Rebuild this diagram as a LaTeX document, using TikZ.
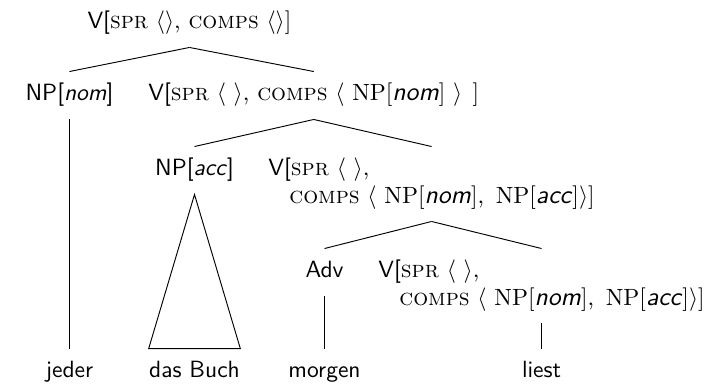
\documentclass[tikz,border=0pt]{standalone}
\usetikzlibrary{calc}
\newcommand{\cat}[1]{\textsf{#1}}
\newcommand{\fe}[1]{\textsc{#1}}
\newcommand{\vl}[1]{{\fontsize{10.9}{11.5}\selectfont\textsf{\textit{#1}}}}
\newcommand{\lsp}{\hspace{0.5em}}
\begin{document}
\begin{tikzpicture}[x=0.4255pt,y=-0.4255pt,
  lbl/.style={inner sep=0pt, text height=12.34pt, text depth=7.66pt, font=\fontsize{10}{11.5}\selectfont},
  twoline/.style={lbl, text depth=19.15pt},
  word/.style={inner sep=0pt, text height=11.9pt, text depth=2.5pt, font=\fontsize{10}{11.5}\selectfont\sffamily},
  edge/.style={line width=0.4pt}]
\useasboundingbox (0,0) rectangle (711,384);
\coordinate (wl) at (0,377);
% labels
\node[lbl, anchor=base] (top) at (189.5,29) {\cat{V[}\fe{spr} $\langle\rangle$, \fe{comps} $\langle\rangle$]};
\node[lbl, anchor=base] (npnom) at (69.5,101) {\cat{NP[\textit{nom}]}};
\node[lbl, anchor=base west] (v2) at (148,101) {\cat{V[}\fe{spr} $\langle\ \rangle$, \fe{comps} $\langle$ NP[\vl{nom}] $\rangle$\hspace{0.1em} ]};
\node[lbl, anchor=base] (npacc) at (194.5,176) {\cat{NP[\textit{acc}]}};
\node[twoline, anchor=base west] (v3) at (268,176) {\begin{tabular}[t]{@{}l@{}}\cat{V[}\fe{spr} $\langle\ \rangle$,\\\hspace{8.9pt}\fe{comps} $\langle$ NP[\vl{nom}],\lsp NP[\vl{acc}]$\rangle$]\end{tabular}};
\node[lbl, anchor=base] (adv) at (324.5,278) {\cat{Adv}};
\node[twoline, anchor=base west] (v4) at (378,278) {\begin{tabular}[t]{@{}l@{}}\cat{V[}\fe{spr} $\langle\ \rangle$,\\\hspace{8.9pt}\fe{comps} $\langle$ NP[\vl{nom}],\lsp NP[\vl{acc}]$\rangle$]\end{tabular}};
% words
\node[word, anchor=base] (jeder) at (npnom.south |- wl) {jeder};
\node[word, anchor=base] (buch) at (npacc.south |- wl) {das Buch};
\node[word, anchor=base] (morgen) at (adv.south |- wl) {morgen};
\node[word, anchor=base] (liest) at (v4.south |- wl) {liest};
% connectors
\draw[edge] (top.south) -- (npnom.north);
\draw[edge] (top.south) -- (v2.north);
\draw[edge] (v2.south) -- (npacc.north);
\draw[edge] (v2.south) -- (v3.north);
\draw[edge] (v3.south) -- (adv.north);
\draw[edge] (v3.south) -- (v4.north);
\draw[edge] (npnom.south) -- (jeder.north);
\draw[edge] (npacc.south) -- (buch.north west) -- (buch.north east) -- cycle;
\draw[edge] (adv.south) -- (morgen.north);
\draw[edge] (v4.south) -- (liest.north);
\end{tikzpicture}
\end{document}
